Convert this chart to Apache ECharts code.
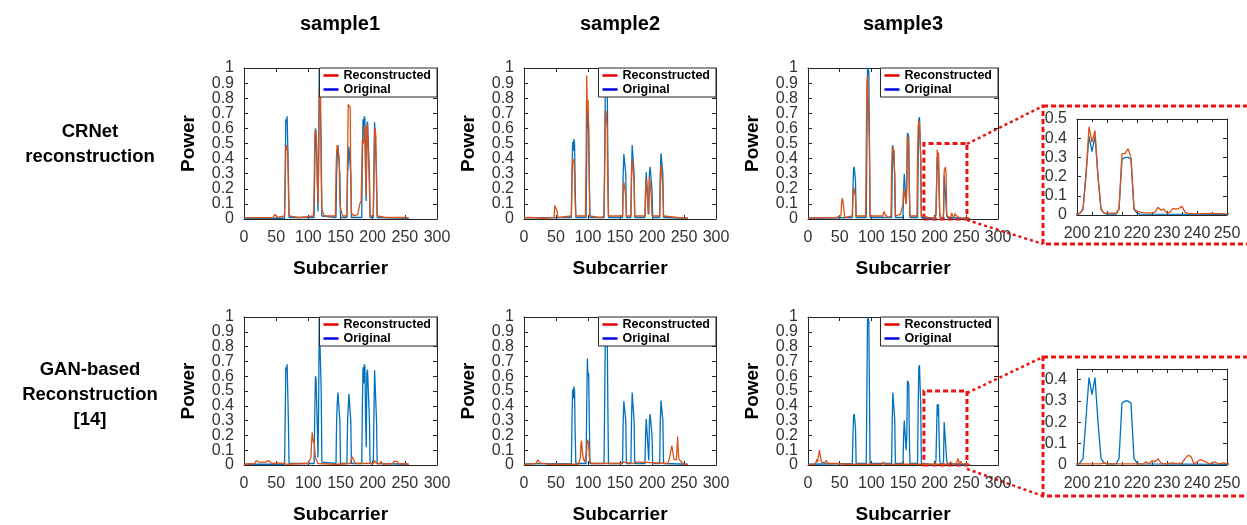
<!DOCTYPE html>
<html>
<head>
<meta charset="utf-8">
<script src="https://cdn.jsdelivr.net/npm/echarts@6/dist/echarts.min.js"></script>
<style>
html, body { margin: 0; padding: 0; background: #fff; }
#main { width: 1247px; height: 525px; }
</style>
</head>
<body>
<div id="main"></div>
<script>
// column titles, row titles and legend names
var sampleNames = ['sample1', 'sample2', 'sample3'];
var rowNames = ['CRNet\nreconstruction', 'GAN-based\nReconstruction\n[14]'];
var legendNames = ['Reconstructed', 'Original'];

// [subcarrier, power]
var sample1Original = [[0,0.005],[63,0.005],[64,0.3],[65,0.66],[66,0.64],[67,0.68],[68,0.67],[69,0.3],[70,0.01],[109,0.01],[110,0.35],[111,0.6],[112,0.58],[113,0.57],[114,0.25],[115,0.05],[116,0.4],[117,1.0],[119,1.0],[120,0.5],[121,0.02],[143,0.01],[144,0.3],[145,0.42],[146,0.49],[148,0.49],[149,0.3],[150,0.01],[160,0.01],[161,0.3],[162,0.38],[163,0.48],[165,0.48],[166,0.3],[167,0.01],[183,0.01],[184,0.4],[185,0.66],[186,0.55],[187,0.68],[188,0.66],[189,0.3],[190,0.12],[191,0.62],[192,0.645],[194,0.64],[195,0.3],[196,0.01],[201,0.01],[202,0.35],[203,0.64],[205,0.645],[206,0.3],[207,0.01],[256,0.005]];
var sample1CRNet = [[0,0.008],[45,0.01],[48,0.03],[50,0.025],[52,0.01],[63,0.02],[64,0.2],[65,0.45],[66,0.49],[67,0.48],[68,0.45],[69,0.2],[70,0.02],[84,0.01],[86,0.02],[88,0.01],[108,0.02],[109,0.2],[110,0.55],[111,0.59],[112,0.58],[113,0.5],[114,0.25],[115,0.1],[116,0.35],[117,0.8],[118,1.0],[119,0.82],[120,0.3],[121,0.06],[123,0.05],[125,0.02],[142,0.02],[143,0.3],[144,0.45],[145,0.49],[147,0.49],[148,0.4],[149,0.1],[151,0.055],[153,0.02],[160,0.02],[161,0.4],[162,0.76],[164,0.77],[165,0.74],[166,0.3],[167,0.04],[169,0.03],[171,0.02],[177,0.03],[180,0.1],[182,0.12],[183,0.3],[184,0.52],[186,0.5],[187,0.62],[188,0.6],[189,0.3],[190,0.15],[191,0.6],[192,0.63],[194,0.62],[195,0.2],[196,0.02],[201,0.02],[202,0.3],[203,0.58],[204,0.6],[205,0.55],[206,0.2],[207,0.02],[220,0.01],[248,0.01],[251,0.02],[253,0.01],[256,0.005]];
var sample1GAN = [[0,0.005],[17,0.01],[19,0.03],[21,0.04],[23,0.02],[26,0.01],[33,0.02],[35,0.03],[38,0.03],[40,0.02],[43,0.01],[47,0.01],[49,0.02],[51,0.015],[53,0.005],[63,0.01],[65,0.02],[67,0.005],[95,0.01],[100,0.01],[103,0.02],[104,0.05],[105,0.15],[106,0.22],[107,0.23],[108,0.15],[109,0.17],[110,0.1],[111,0.05],[113,0.03],[115,0.01],[140,0.005],[143,0.01],[145,0.005],[165,0.01],[167,0.04],[168,0.055],[170,0.05],[171,0.03],[173,0.01],[200,0.01],[202,0.02],[203,0.03],[204,0.02],[206,0.01],[212,0.01],[213,0.025],[214,0.02],[216,0.005],[231,0.01],[233,0.025],[238,0.025],[240,0.01],[256,0.005]];

var sample2Original = [[0,0.008],[74,0.01],[75,0.3],[76,0.51],[77,0.45],[78,0.53],[79,0.5],[80,0.2],[81,0.01],[97,0.01],[98,0.4],[99,0.72],[100,0.6],[101,0.62],[102,0.3],[103,0.01],[125,0.01],[126,0.4],[127,0.85],[128,0.95],[130,0.93],[131,0.4],[132,0.01],[154,0.01],[155,0.3],[156,0.43],[158,0.42],[159,0.3],[160,0.01],[167,0.01],[168,0.3],[169,0.49],[171,0.5],[172,0.3],[173,0.01],[189,0.01],[190,0.2],[191,0.31],[193,0.3],[194,0.1],[195,0.03],[196,0.3],[197,0.345],[199,0.34],[200,0.2],[201,0.01],[212,0.01],[213,0.3],[214,0.435],[216,0.43],[217,0.3],[218,0.01],[256,0.005]];
var sample2CRNet = [[0,0.005],[5,0.01],[8,0.015],[10,0.01],[30,0.005],[47,0.01],[48,0.09],[49,0.1],[51,0.095],[52,0.05],[53,0.01],[74,0.02],[75,0.3],[76,0.4],[78,0.38],[79,0.3],[80,0.1],[81,0.02],[96,0.02],[97,0.4],[98,0.95],[99,0.7],[100,0.79],[101,0.6],[102,0.2],[103,0.02],[117,0.01],[119,0.015],[121,0.01],[125,0.02],[126,0.3],[127,0.7],[128,0.72],[130,0.6],[131,0.2],[132,0.02],[154,0.02],[155,0.2],[156,0.245],[158,0.24],[159,0.15],[160,0.02],[167,0.02],[168,0.3],[169,0.4],[171,0.39],[172,0.25],[173,0.02],[189,0.02],[190,0.2],[191,0.27],[193,0.26],[194,0.03],[195,0.15],[196,0.28],[198,0.27],[199,0.15],[200,0.02],[212,0.02],[213,0.25],[214,0.355],[216,0.35],[217,0.2],[218,0.02],[240,0.01],[256,0.005]];
var sample2GAN = [[0,0.003],[18,0.01],[20,0.02],[22,0.035],[24,0.015],[26,0.01],[33,0.01],[35,0.012],[37,0.005],[85,0.005],[88,0.05],[89,0.14],[90,0.165],[91,0.1],[92,0.06],[93,0.04],[95,0.02],[97,0.02],[98,0.1],[99,0.17],[100,0.18],[101,0.15],[102,0.06],[103,0.03],[105,0.01],[150,0.01],[153,0.015],[156,0.02],[158,0.01],[170,0.01],[174,0.02],[176,0.025],[179,0.02],[181,0.01],[225,0.01],[228,0.06],[231,0.13],[232,0.138],[233,0.08],[234,0.04],[236,0.035],[237,0.05],[238,0.035],[239,0.1],[240,0.193],[241,0.1],[242,0.04],[244,0.035],[245,0.045],[246,0.02],[248,0.015],[250,0.005],[256,0.003]];

var sample3Original = [[0,0.005],[70,0.01],[71,0.2],[72,0.33],[73,0.345],[74,0.34],[75,0.25],[76,0.01],[92,0.01],[93,0.5],[94,1.0],[96,0.98],[97,0.5],[98,0.01],[132,0.01],[133,0.3],[134,0.49],[136,0.48],[137,0.3],[138,0.01],[150,0.01],[151,0.2],[152,0.3],[154,0.295],[155,0.1],[156,0.2],[157,0.57],[158,0.58],[159,0.55],[160,0.2],[161,0.01],[173,0.01],[174,0.4],[175,0.66],[176,0.675],[177,0.67],[178,0.4],[179,0.01],[200,0.0],[201,0.01],[202,0.03],[203,0.22],[204,0.41],[205,0.33],[206,0.41],[207,0.2],[208,0.03],[209,0.01],[210,0.005],[213,0.005],[214,0.03],[215,0.29],[216,0.3],[217,0.3],[218,0.29],[219,0.03],[220,0.01],[221,0.005],[250,0.003],[256,0.003]];
var sample3CRNet = [[0,0.005],[20,0.008],[45,0.01],[52,0.02],[53,0.1],[54,0.138],[55,0.12],[56,0.09],[57,0.05],[58,0.01],[70,0.02],[71,0.15],[72,0.21],[74,0.2],[75,0.15],[76,0.02],[91,0.02],[92,0.5],[93,0.9],[94,0.95],[96,0.956],[97,0.5],[98,0.02],[118,0.02],[120,0.05],[122,0.03],[124,0.035],[126,0.01],[131,0.02],[132,0.3],[133,0.48],[135,0.48],[136,0.45],[137,0.2],[138,0.02],[146,0.03],[149,0.04],[150,0.1],[151,0.2],[152,0.213],[154,0.21],[155,0.1],[156,0.3],[157,0.55],[158,0.56],[159,0.5],[160,0.2],[161,0.02],[172,0.02],[173,0.4],[174,0.62],[176,0.65],[177,0.64],[178,0.4],[179,0.02],[190,0.01],[200,0.005],[201,0.01],[202,0.03],[203,0.2],[204,0.46],[205,0.38],[206,0.44],[207,0.2],[208,0.03],[209,0.01],[213,0.01],[214,0.03],[215,0.32],[216,0.32],[217,0.345],[218,0.3],[219,0.03],[220,0.02],[221,0.015],[222,0.012],[225,0.01],[226,0.015],[227,0.04],[228,0.025],[229,0.03],[230,0.01],[231,0.015],[232,0.035],[233,0.03],[234,0.035],[235,0.045],[236,0.015],[237,0.008],[240,0.006],[245,0.008],[250,0.006],[256,0.005]];
var sample3GAN = [[0,0.003],[10,0.005],[13,0.02],[14,0.04],[15,0.02],[16,0.03],[17,0.07],[18,0.1],[19,0.105],[20,0.05],[21,0.02],[23,0.01],[27,0.015],[29,0.03],[30,0.02],[32,0.01],[40,0.01],[42,0.015],[44,0.01],[60,0.005],[88,0.005],[90,0.01],[92,0.005],[117,0.005],[119,0.02],[121,0.005],[182,0.005],[184,0.01],[186,0.005],[200,0.005],[208,0.005],[209,0.01],[210,0.005],[222,0.005],[223,0.015],[224,0.005],[225,0.02],[226,0.015],[227,0.03],[228,0.01],[229,0.005],[232,0.01],[233,0.005],[235,0.01],[236,0.03],[237,0.045],[238,0.04],[239,0.005],[241,0.025],[242,0.02],[243,0.015],[244,0.005],[246,0.015],[247,0.005],[249,0.01],[250,0.005],[256,0.003]];

// zoomed window drawn on sample3: [x from, x to, power from, power to]
var zoomWindow = [183, 251, 0, 0.5];

var FONT = 'Liberation Sans, Arial, sans-serif';
var AXIS = '#262626';
var LABEL = '#333';
var BLUE = '#0072BD', ORANGE = '#D95319', RED = '#ee1111';

var chart = echarts.init(document.getElementById('main'));

var grids = [], xAxes = [], yAxes = [], series = [], legends = [];

var nameStyle = { fontFamily: FONT, fontSize: 19, fontWeight: 'bold', color: '#000' };

// tenths labels split over two axes so ECharts does not drop the crowded ones
function tenths(parity) {
    return function (v) {
        var k = Math.round(v * 10);
        return (k % 2 === parity) ? String(k / 10) : '';
    };
}

// one boxed panel = grid + bottom/top x axis + left/right y axis
function panel(box, xr, yr, withNames, minorSplit, hideMax, splitLabels) {
    var gi = grids.length;
    grids.push({ left: box[0], top: box[1], width: box[2], height: box[3] });
    var line = { show: true, onZero: false, lineStyle: { color: AXIS, width: 1 } };
    var tick = { show: true, inside: true, length: 4, lineStyle: { color: AXIS } };
    var minor = { show: !!minorSplit, splitNumber: minorSplit || 2, length: 3, lineStyle: { color: AXIS } };
    var yLabel = { color: LABEL, fontSize: 16, fontFamily: FONT, margin: 10, showMinLabel: true, showMaxLabel: !hideMax };
    var xi = xAxes.length;
    xAxes.push({
        gridIndex: gi, type: 'value', position: 'bottom', min: xr[0], max: xr[1], interval: xr[2],
        axisLine: line, axisTick: tick, minorTick: minor, splitLine: { show: false },
        axisLabel: { color: LABEL, fontSize: 16, fontFamily: FONT, margin: 11, showMinLabel: true, showMaxLabel: true },
        name: withNames ? 'Subcarrier' : '', nameLocation: 'middle', nameGap: 40, nameTextStyle: nameStyle
    });
    xAxes.push({
        gridIndex: gi, type: 'value', position: 'top', min: xr[0], max: xr[1], interval: xr[2],
        axisLine: line, axisTick: tick, minorTick: minor, splitLine: { show: false }, axisLabel: { show: false }
    });
    var yi = yAxes.length;
    yAxes.push({
        gridIndex: gi, type: 'value', position: 'left', min: yr[0], max: yr[1], interval: yr[2],
        axisLine: line, axisTick: tick, splitLine: { show: false },
        axisLabel: splitLabels ? Object.assign({}, yLabel, { formatter: tenths(0) }) : yLabel,
        name: withNames ? 'Power' : '', nameLocation: 'middle', nameGap: 46, nameRotate: 90, nameTextStyle: nameStyle
    });
    if (splitLabels) {
        yAxes.push({
            gridIndex: gi, type: 'value', position: 'left', min: yr[0], max: yr[1], interval: yr[2],
            axisLine: { show: false, onZero: false }, axisTick: { show: false }, splitLine: { show: false },
            axisLabel: Object.assign({}, yLabel, { formatter: tenths(1) })
        });
    }
    yAxes.push({
        gridIndex: gi, type: 'value', position: 'right', min: yr[0], max: yr[1], interval: yr[2],
        axisLine: line, axisTick: tick, splitLine: { show: false }, axisLabel: { show: false }
    });
    return { x: xi, y: yi };
}

function addLines(ax, orig, recon, mark) {
    series.push({
        type: 'line', name: 'Original', xAxisIndex: ax.x, yAxisIndex: ax.y, data: orig,
        symbol: 'none', lineStyle: { width: 1.3, color: BLUE }, itemStyle: { color: BLUE }, silent: true
    });
    var s = {
        type: 'line', name: 'Reconstructed', xAxisIndex: ax.x, yAxisIndex: ax.y, data: recon,
        symbol: 'none', lineStyle: { width: 1.3, color: ORANGE }, itemStyle: { color: ORANGE }, silent: true
    };
    if (mark) {
        s.markArea = {
            silent: true,
            itemStyle: { color: 'rgba(0,0,0,0)', borderColor: RED, borderWidth: 3, borderType: [5, 3] },
            data: [[{ xAxis: zoomWindow[0], yAxis: zoomWindow[2] }, { xAxis: zoomWindow[1], yAxis: zoomWindow[3] }]]
        };
    }
    series.push(s);
}

var cols = [[244, 193], [524, 192], [808, 190]];
var rows = [[68, 151], [317, 152]];
var originals = [sample1Original, sample2Original, sample3Original];
var recons = [[sample1CRNet, sample2CRNet, sample3CRNet], [sample1GAN, sample2GAN, sample3GAN]];

for (var r = 0; r < 2; r++) {
    for (var c = 0; c < 3; c++) {
        var ax = panel([cols[c][0], rows[r][0], cols[c][1], rows[r][1]], [0, 300, 50], [0, 1, 0.1], true, 0, false, true);
        addLines(ax, originals[c], recons[r][c], c === 2);
        legends.push({
            orient: 'vertical', right: 1247 - (cols[c][0] + cols[c][1]), top: rows[r][0],
            selectedMode: false, backgroundColor: '#fff', borderColor: AXIS, borderWidth: 1,
            padding: [1, 6, 1, 4], itemGap: 1, itemWidth: 15, itemHeight: 2.5,
            textStyle: { fontFamily: FONT, fontSize: 12.5, fontWeight: 'bold', color: '#000', lineHeight: 13 },
            data: [
                { name: legendNames[0], icon: 'rect', itemStyle: { color: '#e00000' } },
                { name: legendNames[1], icon: 'rect', itemStyle: { color: '#0000e0' } }
            ]
        });
    }
}

// zoomed insets of sample3
var in1 = panel([1077, 119, 150, 96], [200, 250, 10], [0, 0.5, 0.1], false, 2, false, false);
addLines(in1, sample3Original, sample3CRNet, false);
var in2 = panel([1077, 369, 150, 96], [200, 250, 10], [0, 0.45, 0.1], false, 2, true, false);
addLines(in2, sample3Original, sample3GAN, false);

var graphics = [];
var colCenters = [340, 620, 903];
for (var i = 0; i < 3; i++) {
    graphics.push({
        type: 'text', x: colCenters[i], y: 24,
        style: { text: sampleNames[i], fontFamily: FONT, fontSize: 20, fontWeight: 'bold', fill: '#000', align: 'center', verticalAlign: 'middle' }
    });
}
var rowCenters = [144, 395];
for (var j = 0; j < 2; j++) {
    graphics.push({
        type: 'text', x: 90, y: rowCenters[j],
        style: { text: rowNames[j], fontFamily: FONT, fontSize: 18.5, fontWeight: 'bold', fill: '#000', align: 'center', verticalAlign: 'middle', lineHeight: 25 }
    });
}
// dashed frames round the insets and the dotted connectors
var frameStyle = { fill: 'none', stroke: RED, lineWidth: 3, lineDash: [5, 3] };
var linkStyle = { stroke: RED, lineWidth: 2.5, lineDash: [3, 3] };
graphics.push({ type: 'rect', shape: { x: 1043, y: 106, width: 215, height: 138 }, style: frameStyle });
graphics.push({ type: 'rect', shape: { x: 1043, y: 357, width: 215, height: 139 }, style: frameStyle });
graphics.push({ type: 'line', shape: { x1: 967, y1: 144, x2: 1043, y2: 106 }, style: linkStyle });
graphics.push({ type: 'line', shape: { x1: 967, y1: 220, x2: 1043, y2: 244 }, style: linkStyle });
graphics.push({ type: 'line', shape: { x1: 967, y1: 393, x2: 1043, y2: 357 }, style: linkStyle });
graphics.push({ type: 'line', shape: { x1: 967, y1: 469, x2: 1043, y2: 496 }, style: linkStyle });

var option = {
    animation: false,
    backgroundColor: '#fff',
    grid: grids,
    xAxis: xAxes,
    yAxis: yAxes,
    legend: legends,
    series: series,
    graphic: graphics
};
chart.setOption(option);
</script>
</body>
</html>
